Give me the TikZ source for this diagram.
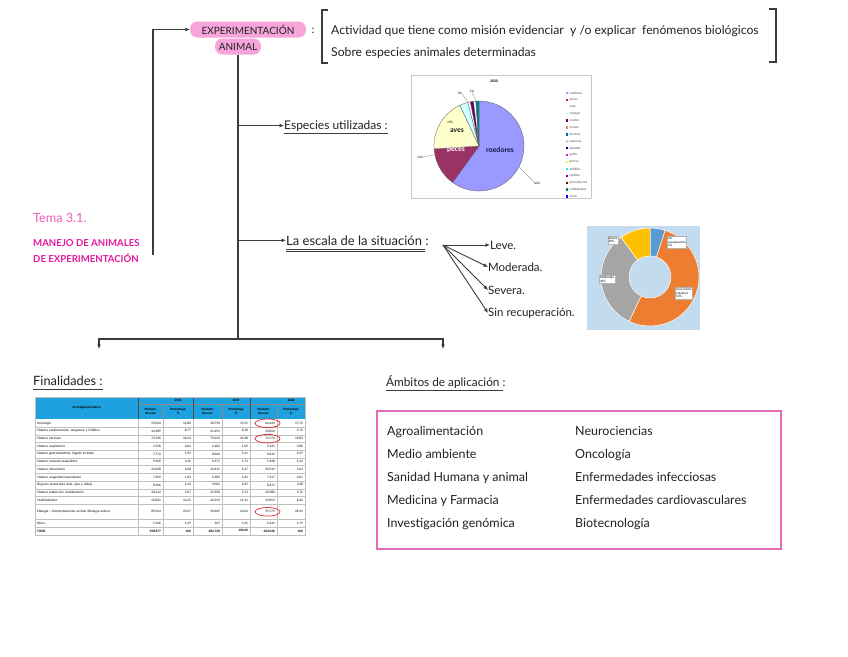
\documentclass[tikz,border=0pt]{standalone}
\usepackage{fontspec}
\setmainfont{Lato}
\newfontfamily\chartfont{Carlito}
\usetikzlibrary{arrows.meta,calc}
\definecolor{pillpink}{HTML}{F6A4D9}
\definecolor{titlemag}{HTML}{E3189B}
\definecolor{temapink}{HTML}{EF5DB9}
\definecolor{boxpink}{HTML}{E46CB6}
\definecolor{inkgray}{HTML}{3C3C3C}
\definecolor{inktext}{HTML}{222222}
\definecolor{hdrblue}{HTML}{1FA1DF}
\definecolor{gridgray}{HTML}{BFBFBF}
\definecolor{ringred}{HTML}{E0262B}
\definecolor{donutbg}{HTML}{C3DBEF}
\definecolor{dblue}{HTML}{5B9BD5}
\definecolor{dorange}{HTML}{ED7D31}
\definecolor{dgray}{HTML}{A5A5A5}
\definecolor{dgold}{HTML}{FFC000}
\definecolor{proedores}{HTML}{9999FF}
\definecolor{ppeces}{HTML}{993366}
\definecolor{paves}{HTML}{FFFFCC}
\definecolor{pconejos}{HTML}{CCFFFF}
\definecolor{pcerdos}{HTML}{660066}
\definecolor{povinos}{HTML}{FF8080}
\definecolor{pbovinos}{HTML}{0066CC}
\definecolor{pcaprinos}{HTML}{CCCCFF}
\definecolor{pequidos}{HTML}{000080}
\definecolor{pgatos}{HTML}{FF00FF}
\definecolor{pperros}{HTML}{FFFF00}
\definecolor{panfibios}{HTML}{00FFFF}
\definecolor{preptiles}{HTML}{800080}
\definecolor{pprimates}{HTML}{800000}
\definecolor{pcefalo}{HTML}{008080}
\definecolor{potros}{HTML}{0000FF}
\definecolor{roedtext}{HTML}{1A1A4A}

\newcommand\handfont[1]{\fontsize{#1}{#1}\selectfont}
\newcommand\tinyfont{\chartfont\fontsize{3.4}{3.9}\selectfont}

% table row: {row index}{span}{name}{a}{b}{c}{d}{e}{f}
\newcommand\trow[9]{%
  \pgfmathsetmacro\yt{419.4+7.7*#1}%
  \pgfmathsetmacro\yb{419.4+7.7*(#1+#2)}%
  \pgfmathsetmacro\ym{(\yt+\yb)/2}%
  \draw[gridgray, line width=0.3pt] (35,\yb) -- (305,\yb);
  \node[tcellL] (t#1n) at (37,\ym) {#3};
  \node[tcellR] (t#1a) at (161,\ym) {#4};
  \node[tcellR] (t#1b) at (191,\ym) {#5};
  \node[tcellR] (t#1c) at (220,\ym) {#6};
  \node[tcellR] (t#1d) at (248,\ym) {#7};
  \node[tcellR] (t#1e) at (275,\ym) {#8};
  \node[tcellR] (t#1f) at (303,\ym) {#9};
}

\begin{document}
\begin{tikzpicture}[x=1pt,y=-1pt,
  hand/.style={inner sep=0pt, text=inktext, font=\handfont{11}},
  pill/.style={fill=pillpink, rounded corners=7.5pt, inner sep=0pt, text=inktext, font=\handfont{10}},
  conn/.style={draw=inkgray, line width=1.1pt},
  tip/.style={-{Latex[length=4.5pt,width=4pt]}},
  uline/.style={draw=inkgray, line width=0.9pt},
  tcellL/.style={anchor=west, inner sep=0pt, font=\tinyfont, text width=98pt, align=left},
  tcellR/.style={anchor=east, inner sep=0pt, font=\tinyfont},
  thead/.style={inner sep=0pt, font=\tinyfont\bfseries, align=center},
  chartlbl/.style={inner sep=0pt, font=\tinyfont},
  dlabel/.style={fill=white, draw=black!30, line width=0.2pt, inner sep=0.8pt, font=\chartfont\fontsize{3.3}{3.8}\selectfont, align=left}
]
\useasboundingbox (0,0) rectangle (848,656);
\fill[white] (0,0) rectangle (848,656);

% ---------- title pills ----------
\node[pill, minimum width=116pt, minimum height=16pt] (pexp) at (248,29.5) {EXPERIMENTACIÓN};
\node[pill, minimum width=46pt, minimum height=16pt] (pani) at (238,46.5) {ANIMAL};
\node[hand] (colon1) at (313,31) {:};

% ---------- definition ----------
\node[hand, anchor=base west, align=left, font=\handfont{12.2}] (defl1) at (331,34) {Actividad que tiene como misión evidenciar \ y /o explicar \ fenómenos biológicos};
\node[hand, anchor=base west, align=left, font=\handfont{12.2}] (defl2) at (331,56) {Sobre especies animales determinadas};
\draw[conn, line width=1.3pt] (328,10) -- (322,10) -- (322,63) -- (328,63);
\draw[conn, line width=1.3pt] (769,9) -- (776,9) -- (776,62) -- (769,62);

% ---------- left title ----------
\node[anchor=base west, inner sep=0pt, text=temapink, font=\handfont{12.7}] (tema) at (33,222) {Tema 3.1.};
\node[anchor=base west, inner sep=0pt, text=titlemag, font=\handfont{9.6}\bfseries] (manejo1) at (33,246) {MANEJO DE ANIMALES};
\node[anchor=base west, inner sep=0pt, text=titlemag, font=\handfont{9.6}\bfseries] (manejo2) at (33,262) {DE EXPERIMENTACIÓN};
\coordinate (tstart) at (153,255);
\draw[conn, tip] (tstart) |- (pexp.west);

% ---------- main trunk ----------
\coordinate (split) at (238,339);
\draw[conn] (pani.south) -- (split);

% especies
\node[hand, anchor=base west, font=\handfont{12}] (esp) at (284,129) {Especies utilizadas :};
\draw[uline] ($(esp.base west)+(0,4.5)$) -- ($(esp.base east)+(0,4.5)$);
\draw[conn, tip] (pani.south |- esp.west) -- (esp.west);

% escala
\node[hand, anchor=base west, font=\handfont{13}] (esc) at (286,245) {La escala de la situación :};
\draw[uline] ($(esc.base west)+(0,4.5)$) -- ($(esc.base east)+(-4,4.5)$);
\draw[uline] ($(esc.base west)+(0,6.5)$) -- ($(esc.base east)+(-4,6.5)$);
\draw[conn, tip] (pani.south |- esc.west) -- (esc.west);

\coordinate (fan) at (443,245);
\node[hand, anchor=west, font=\handfont{11.5}] (leve) at (490,245) {Leve.};
\node[hand, anchor=west, font=\handfont{11.5}] (mod) at (488,267) {Moderada.};
\node[hand, anchor=west, font=\handfont{11.5}] (sev) at (488,290) {Severa.};
\node[hand, anchor=west, font=\handfont{11.5}] (sinrec) at (488,313) {Sin recuperación.};
\draw[conn, line width=0.9pt, tip] (fan) -- (leve.west);
\draw[conn, line width=0.9pt, tip] (fan) -- (mod.west);
\draw[conn, line width=0.9pt, tip] (fan) -- (sev.west);
\draw[conn, line width=0.9pt, tip] (fan) -- (sinrec.west);

% bottom split
\coordinate (finTip) at (99,349);
\coordinate (ambTip) at (443,349);
\draw[conn, tip] (split) -| (finTip);
\draw[conn, tip] (split) -| (ambTip);

% ---------- pie chart ----------
\draw[black!22, line width=0.6pt, fill=white] (411,75) rectangle (591,198);
\node[chartlbl, font=\chartfont\bfseries\fontsize{3.8}{4}\selectfont] (pietitle) at (494,81) {2020};
\begin{scope}[shift={(479,146)}, y=1pt]
  \foreach \a/\b/\c in {90/-126/proedores, -126/-176.4/ppeces, -176.4/-244.8/paves,
      115.2/104.4/pconejos, 104.4/101/white, 101/97/pcerdos, 97/94/white, 94/90/pcefalo}
    \filldraw[fill=\c, draw=black!65, line width=0.3pt] (0,0) -- (\a:45) arc[start angle=\a, end angle=\b, radius=45] -- cycle;
\end{scope}
\node[inner sep=0pt, text=roedtext, font=\chartfont\bfseries\fontsize{7.5}{8}\selectfont] (lroed) at (500,150) {roedores};
\node[inner sep=0pt, text=white!85!pink, font=\chartfont\bfseries\fontsize{7.5}{8}\selectfont] (lpeces) at (456,150) {peces};
\node[inner sep=0pt, text=black!85, font=\chartfont\bfseries\fontsize{7.5}{8}\selectfont] (laves) at (457,131) {aves};
\node[chartlbl] (p60) at (537,183) {60\%};
\node[chartlbl] (p14) at (420,157) {14\%};
\node[chartlbl] (p19) at (450,122) {19\%};
\node[chartlbl] (p3) at (460,93) {3\%};
\node[chartlbl] (p1) at (472,91) {1\%};
\coordinate (e60) at (519,167);
\coordinate (e14) at (434,155);
\coordinate (e3) at (468,102);
\coordinate (e1) at (476,101);
\draw[black!50, line width=0.3pt] (p60.north west) -- (e60);
\draw[black!50, line width=0.3pt] (p14.east) -- (e14);
\draw[black!50, line width=0.3pt] (p3.south east) -- (e3);
\draw[black!50, line width=0.3pt] (p1.south) -- (e1);
% legend
\foreach \n/\c [count=\i from 0] in {roedores/proedores, peces/ppeces, aves/paves, conejos/pconejos,
    cerdos/pcerdos, ovinos/povinos, bovinos/pbovinos, caprinos/pcaprinos, équidos/pequidos,
    gatos/pgatos, perros/pperros, anfibios/panfibios, reptiles/preptiles, primates NH/pprimates,
    cefalópodos/pcefalo, otros/potros} {
  \pgfmathsetmacro\ly{93+6.9*\i}
  \fill[\c] (566,\ly-1.2) rectangle (568.4,\ly+1.2);
  \node[chartlbl, anchor=west, text=black!70] (leg\i) at (569.5,\ly) {\n};
}

% ---------- donut ----------
\fill[donutbg] (587,226) rectangle (700,330);
\begin{scope}[shift={(650,277)}, y=1pt]
  \foreach \a/\b/\c in {90/72/dblue, 72/-115.2/dorange, -115.2/-234/dgray, 126/90/dgold}
    \filldraw[fill=\c, draw=white, line width=0.5pt] (\a:49) arc[start angle=\a, end angle=\b, radius=49] -- (\b:21) arc[start angle=\b, end angle=\a, radius=21] -- cycle;
\end{scope}
\node[dlabel] (dsev) at (613,240) {Severa\\10\%};
\node[dlabel] (dsin) at (677,242) {Sin\\recuperación\\5\%};
\node[dlabel] (dmod) at (607,279) {Moderada\\33\%};
\node[dlabel] (dlev) at (684,293) {Leve (como\\máximo)\\52\%};

% ---------- finalidades ----------
\node[hand, anchor=base west, font=\handfont{12.8}] (fin) at (33,385) {Finalidades :};
\draw[uline] ($(fin.base west)+(0,4)$) -- ($(fin.base east)+(0,4)$);

% table
\fill[hdrblue] (35,397) rectangle (305,419.4);
\node[thead] (hinv) at (86.5,408) {Investigación básica};
\node[thead] (h18) at (178,400.6) {2018};
\node[thead] (h19) at (236,400.6) {2019};
\node[thead] (h20) at (291,400.6) {2020};
\foreach \x/\k in {150.5/a, 207.5/c, 263.5/e} \node[thead] (hn\k) at (\x,411.5) {Número\\de usos};
\foreach \x/\k in {178/b, 236/d, 291/f} \node[thead] (hp\k) at (\x,411.5) {Porcentaje\\\%};
\trow{0}{1}{Oncología}{59.034}{14,80}{58.790}{15,35}{64.420}{17,70}
\trow{1}{1}{Sistema cardiovascular, sanguíneo y linfático}{34.989}{8,77}{31.291}{8,18}{20.820}{5,72}
\trow{2}{1}{Sistema nervioso}{73.536}{18,44}{79.022}{20,38}{72.174}{19,83}
\trow{3}{1}{Sistema respiratorio}{2.536}{0,64}{4.182}{1,09}{3.131}{0,86}
\trow{4}{1}{Sistema gastrointestinal, hígado incluido.}{7.772}{1,95}{8.060}{2,11}{8.610}{2,37}
\trow{5}{1}{Sistema músculo-esquelético}{9.560}{2,40}{6.575}{1,72}{5.228}{1,44}
\trow{6}{1}{Sistema inmunitario}{24.258}{6,08}{23.611}{6,17}{20.519}{5,64}
\trow{7}{1}{Sistema urogenital/reproductor}{7.292}{1,83}{6.182}{1,62}{7.317}{2,01}
\trow{8}{1}{Órganos sensoriales (piel, ojos y oídos)}{8.506}{2,13}{9.002}{2,35}{8.672}{2,38}
\trow{9}{1}{Sistema endocrino/ metabolismo}{20.212}{5,07}{21.928}{5,73}{20.980}{5,76}
\trow{10}{1}{Multisistémico}{56.821}{14,25}{42.592}{11,13}{29.853}{8,20}
\trow{11}{2}{Etología / Comportamiento animal /Biología animal}{89.043}{22,27}{90.469}{23,64}{95.775}{26,31}
\trow{13}{1}{Otros}{5.136}{1,29}{567}{0,15}{6.532}{1,79}
\trow{14}{1}{\textbf{TOTAL}}{\textbf{398.877}}{\textbf{100}}{\textbf{382.758}}{\textbf{100,00}}{\textbf{364.036}}{\textbf{100}}
\foreach \x in {138,163,222,277} \draw[gridgray, line width=0.3pt] (\x,419.4) -- (\x,534.9);
\foreach \x in {193,250} \draw[gridgray, line width=0.3pt] (\x,419.4) -- (\x,534.9);
\draw[black!45, line width=0.3pt] (138,404) -- (305,404);
\foreach \x in {163,222,277} \draw[black!45, line width=0.3pt] (\x,404) -- (\x,419.4);
\foreach \x in {138,193,250} \draw[black!70, line width=0.7pt] (\x,397) -- (\x,419.4);
\draw[gridgray, line width=0.4pt] (35,397) rectangle (305,534.9);
\draw[ringred, line width=0.7pt] (t0e) ++(-2.5,0) ellipse[x radius=12.5pt, y radius=4.3pt];
\draw[ringred, line width=0.7pt] (t2e) ++(-2.5,0) ellipse[x radius=12.5pt, y radius=4.3pt];
\draw[ringred, line width=0.7pt] (t11e) ++(-2.5,0) ellipse[x radius=12.5pt, y radius=4.3pt];

% ---------- ambitos ----------
\node[hand, anchor=base west, font=\handfont{11.8}] (amb) at (386,386) {Ámbitos de aplicación :};
\draw[uline] ($(amb.base west)+(0,4)$) -- ($(amb.base east)+(-3,4)$);
\node[draw=boxpink, line width=1.6pt, minimum width=404pt, minimum height=138pt, anchor=north west, inner sep=0pt] (ambbox) at (376,410) {};
\foreach \t [count=\i from 0] in {Agroalimentación, Medio ambiente, Sanidad Humana y animal, Medicina y Farmacia, Investigación genómica} {
  \node[hand, anchor=base west, font=\handfont{12.5}] (al\i) at (387,435+23.2*\i) {\t};
}
\foreach \t [count=\i from 0] in {Neurociencias, Oncología, Enfermedades infecciosas, Enfermedades cardiovasculares, Biotecnología} {
  \node[hand, anchor=base west, font=\handfont{12.5}] (ar\i) at (575,435+23.2*\i) {\t};
}
\end{tikzpicture}
\end{document}
